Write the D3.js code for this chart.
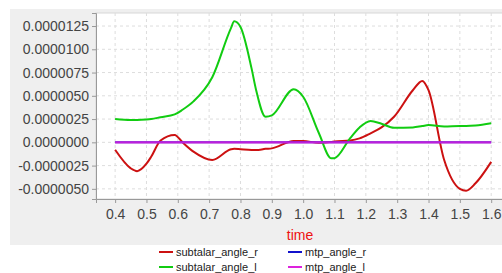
<!DOCTYPE html>
<html>
<head>
<meta charset="utf-8">
<script src="https://cdn.jsdelivr.net/npm/d3@7"></script>
<style>
  body { margin: 0; background: #fff; font-family: "Liberation Sans", Arial, sans-serif; }
  .grid line { stroke: #ddd; stroke-dasharray: 3,3; }
  .axis path, .axis line { stroke: #999; }
  .axis text { fill: #444; font-size: 14px; }
</style>
</head>
<body>
<div id="chart"></div>
<script>
// sample times (s)
var times = [0.40, 0.45, 0.47, 0.50, 0.515, 0.545, 0.59, 0.615, 0.65, 0.71, 0.77, 0.78, 0.80,
             0.835, 0.85, 0.88, 0.90, 0.97, 1.00, 1.05, 1.09, 1.10, 1.15, 1.18, 1.215, 1.25,
             1.29, 1.35, 1.38, 1.40, 1.45, 1.50, 1.52, 1.55, 1.60];

// values in units of 1e-6
var subtalarR = [-0.8, -2.8, -3.1, -2.3, -1.55, 0.2, 0.8, 0.0, -1.0, -1.9, -0.75, -0.7, -0.75,
                 -0.83, -0.83, -0.7, -0.65, 0.15, 0.14, -0.04, 0.05, 0.1, 0.2, 0.43, 0.97, 1.6,
                 2.75, 5.6, 6.6, 5.6, -1.9, -5.0, -5.2, -4.4, -2.1];
var subtalarL = [2.5, 2.4, 2.4, 2.45, 2.5, 2.7, 3.0, 3.5, 4.4, 7.0, 12.3, 13.0, 12.4,
                 8.0, 5.6, 2.75, 2.9, 5.7, 4.9, 1.0, -1.72, -1.7, 0.45, 1.6, 2.3, 2.0,
                 1.57, 1.6, 1.75, 1.85, 1.7, 1.75, 1.75, 1.8, 2.05];
var mtpR = times.map(function(){ return 0; });
var mtpL = times.map(function(){ return 0; });

var xTicks = [0.4, 0.5, 0.6, 0.7, 0.8, 0.9, 1.0, 1.1, 1.2, 1.3, 1.4, 1.5, 1.6];
var yTicks = [-5, -2.5, 0, 2.5, 5, 7.5, 10, 12.5];

var seriesNames = ["subtalar_angle_r", "subtalar_angle_l", "mtp_angle_r", "mtp_angle_l"];
var seriesColors = ["#cc1111", "#11cc11", "#1111cc", "#dd22dd"];
var seriesValues = [subtalarR, subtalarL, mtpR, mtpL];

var W = 502, H = 273;
var svg = d3.select("#chart").append("svg").attr("width", W).attr("height", H);

// gray panel
svg.append("rect").attr("x", 10).attr("y", 9).attr("width", W - 10).attr("height", 236)
  .attr("fill", "#efefef");

var plot = {left: 96, top: 13, right: 510, bottom: 199};

svg.append("rect").attr("x", plot.left).attr("y", plot.top)
  .attr("width", plot.right - plot.left).attr("height", plot.bottom - plot.top)
  .attr("fill", "#fff").attr("stroke", "#d8d8d8");

var x = d3.scaleLinear().domain([0.339, 1.66]).range([plot.left, plot.right]);
var y = d3.scaleLinear().domain([-6.09, 13.9]).range([plot.bottom, plot.top]);

svg.append("g").attr("class", "grid")
  .selectAll("line.v").data(xTicks).enter().append("line")
  .attr("x1", function(d){ return x(d); }).attr("x2", function(d){ return x(d); })
  .attr("y1", plot.top).attr("y2", plot.bottom);
svg.append("g").attr("class", "grid")
  .selectAll("line.h").data(yTicks).enter().append("line")
  .attr("x1", plot.left).attr("x2", plot.right)
  .attr("y1", function(d){ return y(d); }).attr("y2", function(d){ return y(d); });

var xAxis = d3.axisBottom(x).tickValues(xTicks).tickSize(4).tickPadding(6)
  .tickFormat(d3.format(".1f"));
svg.append("g").attr("class", "axis")
  .attr("transform", "translate(0," + plot.bottom + ")")
  .call(xAxis);

var yAxis = d3.axisLeft(y).tickValues(yTicks).tickSize(4).tickPadding(3)
  .tickFormat(function(d){ return (d * 1e-6).toFixed(7); });
svg.append("g").attr("class", "axis")
  .attr("transform", "translate(" + plot.left + ",0)")
  .call(yAxis);

svg.selectAll(".axis .domain").attr("stroke", "#999");

svg.append("text").attr("x", 300).attr("y", 240)
  .attr("text-anchor", "middle").attr("fill", "#ee1111")
  .style("font-size", "14px").text("time");

var clip = svg.append("clipPath").attr("id", "clipPlot").append("rect")
  .attr("x", plot.left).attr("y", plot.top)
  .attr("width", plot.right - plot.left).attr("height", plot.bottom - plot.top);

var line = d3.line()
  .x(function(d){ return x(d[0]); })
  .y(function(d){ return y(d[1]); })
  .curve(d3.curveMonotoneX);

var lines = svg.append("g").attr("clip-path", "url(#clipPlot)");
// draw order: r series then l so magenta sits on top of blue
[0, 1, 2, 3].forEach(function(i){
  var pts = times.map(function(t, j){ return [t, seriesValues[i][j]]; });
  lines.append("path")
    .attr("d", line(pts))
    .attr("fill", "none")
    .attr("stroke", seriesColors[i])
    .attr("stroke-width", i == 3 ? 2.2 : 2)
    .attr("stroke-opacity", i == 3 ? 0.85 : 1);
});

// legend
var legendX = [159, 288], legendY = [252, 267];
seriesNames.forEach(function(name, i){
  var col = i < 2 ? 0 : 1, row = i % 2;
  var g = svg.append("g")
    .attr("transform", "translate(" + legendX[col] + "," + legendY[row] + ")");
  g.append("line").attr("x1", 0).attr("x2", 14).attr("y1", 0).attr("y2", 0)
    .attr("stroke", seriesColors[i]).attr("stroke-width", 2);
  g.append("text").attr("x", 17).attr("y", 4)
    .style("font-size", "11px").attr("fill", "#222").text(name);
});
</script>
</body>
</html>
